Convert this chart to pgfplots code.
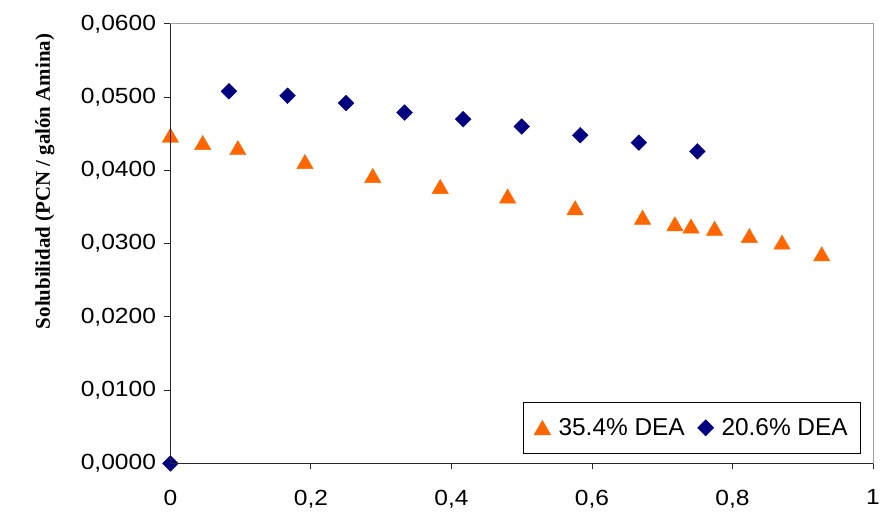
\documentclass[border=0pt]{standalone}
\usepackage{pgfplots}
\pgfplotsset{compat=1.18}
\usepackage{fontspec}
\setmainfont{Liberation Sans}
\newfontfamily\tickfont[FakeStretch=1.12]{Liberation Sans}
\newfontfamily\timesf{Liberation Serif}
\definecolor{triorange}{HTML}{FF6600}
\definecolor{dianavy}{HTML}{000080}
\begin{document}
\begin{tikzpicture}
\path[use as bounding box] (0,0) rectangle (884pt,514pt);
\begin{axis}[
  name=ax,
  at={(171pt,49pt)}, anchor=south west,
  scale only axis, width=705pt, height=441pt,
  xmin=0, xmax=1, ymin=0, ymax=0.06,
  clip=false,
  axis line style={draw=gray!75, line width=1pt},
  xtick={0,0.2,0.4,0.6,0.8,1},
  ytick={0,0.01,0.02,0.03,0.04,0.05,0.06},
  xtick pos=bottom, ytick pos=left,
  tick align=outside,
  major tick length=6pt,
  tick style={draw=black!85, line width=0.9pt},
  scaled y ticks=false, scaled x ticks=false,
  yticklabel style={/pgf/number format/.cd, use comma, fixed, fixed zerofill, precision=4, assume math mode=true, /tikz/.cd, xshift=-5pt},
  xticklabel style={/pgf/number format/.cd, use comma, fixed, precision=1, assume math mode=true, /tikz/.cd, yshift=-17pt},
  ticklabel style={font=\tickfont\fontsize{22}{26}\selectfont},
  ylabel={\timesf\bfseries\fontsize{21}{24}\selectfont Solubilidad (PCN / galón Amina)},
  y label style={at={(axis description cs:-0.1787,0.6417)}, anchor=center},
  legend style={at={(axis description cs:0.983,0.0227)}, anchor=south east,
    legend columns=2, draw=black, line width=0.8pt,
    font=\fontsize{24.5}{28}\selectfont, inner xsep=11pt, inner ysep=14pt,
    /tikz/every odd column/.append style={column sep=6pt},
    /tikz/every even column/.append style={column sep=11pt}},
]
\addplot[only marks, mark=triangle*, mark size=9.5pt, color=triorange,
  mark options={yshift=-2.3pt, fill=triorange, draw=triorange}] coordinates {
  (0,0.0448) (0.046,0.0438) (0.096,0.0431) (0.1915,0.0412) (0.288,0.0393)
  (0.384,0.0378) (0.480,0.0365) (0.576,0.0349) (0.672,0.0336) (0.718,0.0327)
  (0.741,0.0324) (0.7745,0.0321) (0.824,0.0311) (0.8705,0.0302) (0.927,0.0286)
};
\addlegendentry{35.4\% DEA}
\addplot[only marks, mark=square*, mark size=5.6pt, color=dianavy,
  mark options={rotate=45, fill=dianavy, draw=dianavy}] coordinates {
  (0,0) (0.0833,0.0508) (0.1667,0.0502) (0.25,0.0492) (0.3333,0.0479)
  (0.4167,0.0470) (0.5,0.0460) (0.5833,0.0448) (0.6667,0.0438) (0.75,0.0426)
};
\addlegendentry{20.6\% DEA}
\end{axis}
\draw[black!85, line width=1.4pt] (ax.north west) -- (ax.south west) -- (ax.south east);
\end{tikzpicture}
\end{document}
